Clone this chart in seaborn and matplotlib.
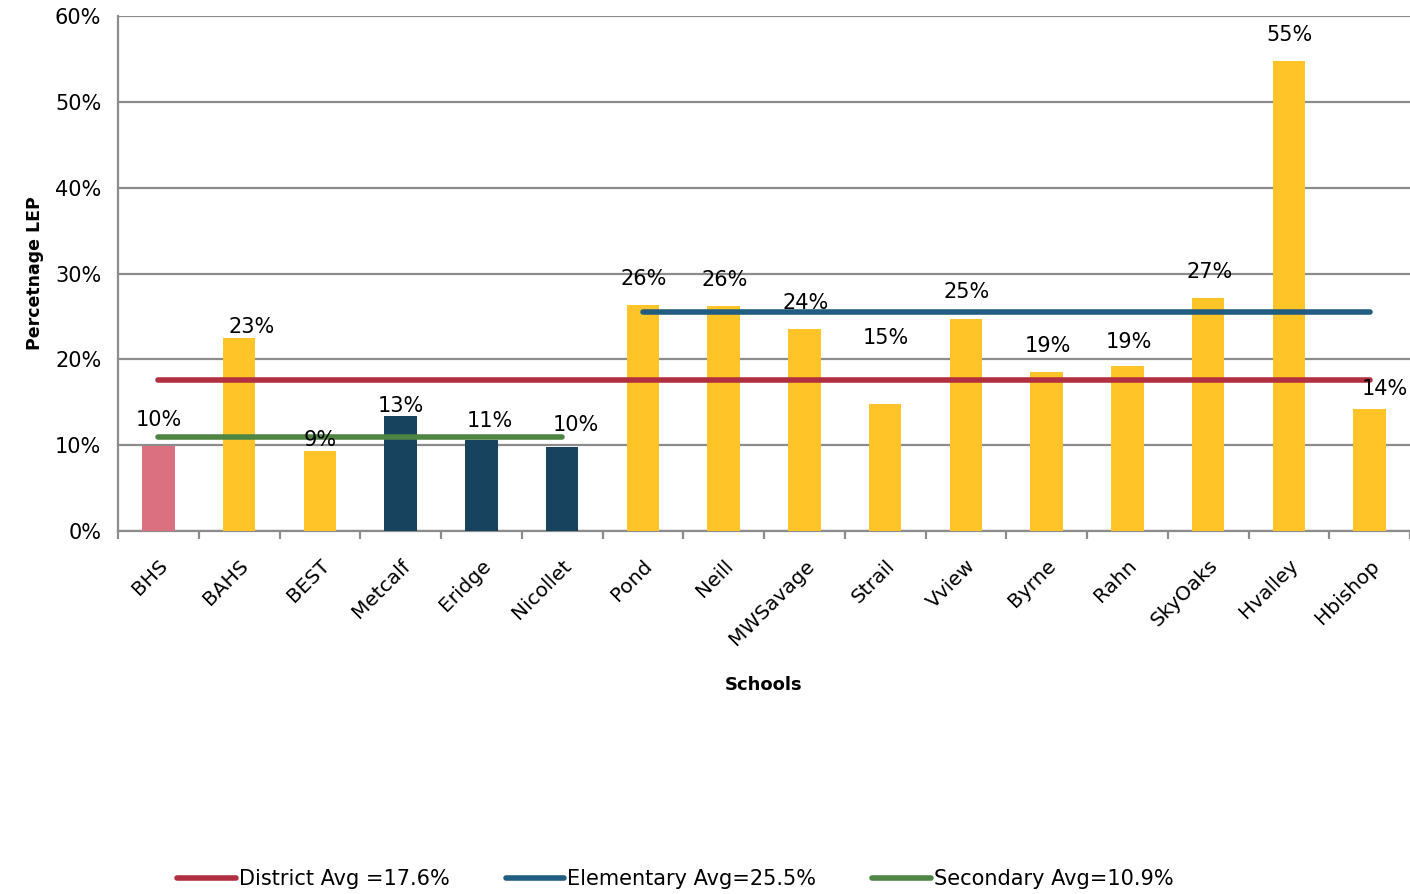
import matplotlib
matplotlib.use('Agg')
import matplotlib.pyplot as plt
import seaborn as sns
import numpy as np
from matplotlib.lines import Line2D
from matplotlib.ticker import FuncFormatter, MultipleLocator

# Data
schools = ['BHS', 'BAHS', 'BEST', 'Metcalf', 'Eridge', 'Nicollet', 'Pond', 'Neill',
           'MWSavage', 'Strail', 'Vview', 'Byrne', 'Rahn', 'SkyOaks', 'Hvalley', 'Hbishop']
lep_pct = [9.9, 22.5, 9.3, 13.4, 10.6, 9.8, 26.3, 26.2,
           23.5, 14.8, 24.7, 18.5, 19.2, 27.1, 54.8, 14.2]
bar_labels = ['10%', '23%', '9%', '13%', '11%', '10%', '26%', '26%',
              '24%', '15%', '25%', '19%', '19%', '27%', '55%', '14%']
district_avg = 17.6
elementary_avg = 25.5
secondary_avg = 10.9
elementary_range = ('Pond', 'Hbishop')
secondary_range = ('BHS', 'Nicollet')
legend_labels = ['District Avg =17.6%', 'Elementary Avg=25.5%', 'Secondary Avg=10.9%']

# styling
pink, yellow, navy = '#DB7180', '#FFC428', '#17435E'
bar_colors = [pink, yellow, yellow, navy, navy, navy] + [yellow] * 10
red, blue, green = '#B03040', '#215D80', '#4E8542'
# label nudges in pixels (as Excel placed them)
label_dx = [0, 12, 0, 0, 8, 14, 1, 1, 1, 1, 1, 1, 1, 1, 1, 15]
label_dy = [26, 11, 11, 10, 19, 22, 26, 26, 26, 66, 27, 26, 24, 26, 26, 20]

sns.set_style('white')
plt.rcParams['font.family'] = ['DejaVu Sans']
plt.rcParams['text.color'] = 'black'
plt.rcParams['xtick.labelcolor'] = 'black'
plt.rcParams['ytick.labelcolor'] = 'black'
plt.rcParams['axes.labelcolor'] = 'black'

fig = plt.figure(figsize=(14.1, 8.94), dpi=100)
ax = fig.add_axes([118 / 1410, 1 - 531 / 894, 1 - 118 / 1410, (531 - 16) / 894])

sns.barplot(x=schools, y=lep_pct, hue=schools, palette=bar_colors, legend=False,
            width=0.4, saturation=1, linewidth=0, ax=ax, zorder=3)

idx = {s: i for i, s in enumerate(schools)}
ax.plot([idx['BHS'], idx['Hbishop']], [district_avg] * 2, color=red, lw=4,
        solid_capstyle='round', zorder=4)
ax.plot([idx[elementary_range[0]], idx[elementary_range[1]]], [elementary_avg] * 2,
        color=blue, lw=4, solid_capstyle='round', zorder=4)
ax.plot([idx[secondary_range[0]], idx[secondary_range[1]]], [secondary_avg] * 2,
        color=green, lw=4, solid_capstyle='round', zorder=4)

for i, (v, lab) in enumerate(zip(lep_pct, bar_labels)):
    ax.annotate(lab, (i, v), xytext=(label_dx[i], label_dy[i]), textcoords='offset pixels',
                ha='center', va='center', fontsize=15, color='black', zorder=5)

ax.set_xlim(-0.5, len(schools) - 0.5)
ax.set_ylim(0, 60)
ax.yaxis.set_major_locator(MultipleLocator(10))
ax.yaxis.set_major_formatter(FuncFormatter(lambda v, p: f'{v:.0f}%'))
ax.grid(axis='y', color='#8c8c8c', lw=1.6, zorder=0)
ax.set_axisbelow(True)

for s in ['top', 'right']:
    ax.spines[s].set_visible(False)
for s in ['left', 'bottom']:
    ax.spines[s].set_color('#8c8c8c')
    ax.spines[s].set_linewidth(1.6)

# ticks between categories, labels at category centres
ax.set_xticks(np.arange(len(schools)))
ax.set_xticklabels(schools, rotation=45, ha='right', rotation_mode='anchor', fontsize=14.5)
ax.set_xticks(np.arange(len(schools) + 1) - 0.5, minor=True)
ax.tick_params(axis='x', which='major', length=0, pad=18)
ax.tick_params(axis='x', which='minor', length=6, width=1.6, color='#8c8c8c', direction='out')
ax.tick_params(axis='y', length=6, width=1.6, color='#8c8c8c', labelsize=15, pad=6)
ax.tick_params(axis='x', bottom=True, which='both')

ax.set_xlabel('Schools', fontsize=13, fontweight='bold', labelpad=20)
ax.set_ylabel('Percetnage LEP', fontsize=12.5, fontweight='bold', labelpad=8)

handles = [Line2D([], [], color=c, lw=4, solid_capstyle='round') for c in (red, blue, green)]
fig.legend(handles, legend_labels, loc='center', bbox_to_anchor=(0.479, 0.017), ncol=3,
           frameon=False, fontsize=15, handlelength=2.8, handletextpad=0.15,
           columnspacing=2.7)

fig.savefig('out.png', dpi=100)
